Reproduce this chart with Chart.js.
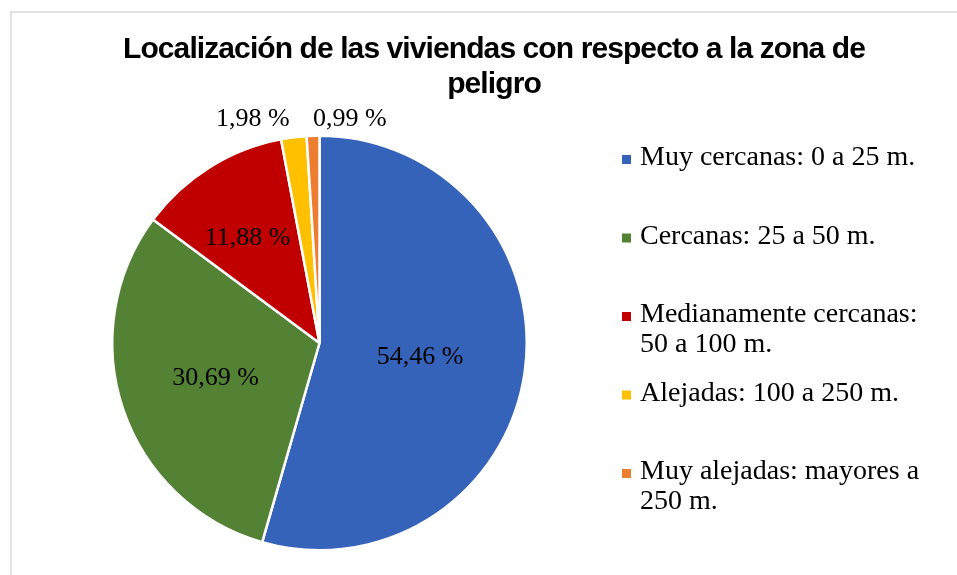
<!DOCTYPE html>
<html>
<head>
<meta charset="utf-8">
<script src="https://cdn.jsdelivr.net/npm/chart.js@4.4.0/dist/chart.umd.min.js"></script>
<style>
  html, body { margin: 0; padding: 0; background: #fff; }
  #wrap { position: relative; width: 957px; height: 575px; }
</style>
</head>
<body>
<div id="wrap"><canvas id="pieChart" width="957" height="575"></canvas></div>
<script>
// datos del gráfico
const titleLines = ['Localización de las viviendas con respecto a la zona de', 'peligro'];
const categories = [
  'Muy cercanas: 0 a 25 m.',
  'Cercanas: 25 a 50 m.',
  'Medianamente cercanas: 50 a 100 m.',
  'Alejadas: 100 a 250 m.',
  'Muy alejadas: mayores a 250 m.'
];
const percentages = [54.46, 30.69, 11.88, 1.98, 0.99];
const sliceColors = ['#3563B9', '#548235', '#C00000', '#FFC000', '#ED7D31'];

const serif = '"Liberation Serif", "Times New Roman", serif';
const sans = '"Liberation Sans", Arial, sans-serif';

function fmtPct(v) {
  return v.toFixed(2).replace('.', ',') + ' %';
}

// marco gris (solo arriba e izquierda visibles)
const framePlugin = {
  id: 'frame',
  beforeDraw(chart) {
    const ctx = chart.ctx;
    ctx.save();
    ctx.fillStyle = '#fff';
    ctx.fillRect(0, 0, chart.width, chart.height);
    ctx.strokeStyle = '#d9d9d9';
    ctx.lineWidth = 1.5;
    ctx.beginPath();
    ctx.moveTo(11, chart.height);
    ctx.lineTo(11, 12);
    ctx.lineTo(chart.width, 12);
    ctx.stroke();
    ctx.restore();
  }
};

// título en dos líneas
const titlePlugin = {
  id: 'bigTitle',
  afterDraw(chart) {
    const ctx = chart.ctx;
    ctx.save();
    ctx.font = 'bold 30px ' + sans;
    ctx.fillStyle = '#000';
    ctx.textBaseline = 'alphabetic';
    ctx.textAlign = 'left';
    const targetW = 742;
    const centerX = 494;
    ctx.letterSpacing = '0px';
    const w0 = ctx.measureText(titleLines[0]).width;
    const ls = (targetW - w0) / titleLines[0].length;
    ctx.letterSpacing = ls + 'px';
    const baselines = [58, 93];
    titleLines.forEach((line, i) => {
      const w = ctx.measureText(line).width;
      ctx.fillText(line, centerX - w / 2, baselines[i]);
    });
    ctx.restore();
  }
};

// etiquetas de porcentaje
const insideRadius = [0.49, 0.53, 0.614];
const sliceLabelPlugin = {
  id: 'sliceLabels',
  afterDatasetsDraw(chart) {
    const ctx = chart.ctx;
    const meta = chart.getDatasetMeta(0);
    ctx.save();
    ctx.font = '26px ' + serif;
    ctx.fillStyle = '#000';
    ctx.textBaseline = 'middle';
    meta.data.forEach((arc, i) => {
      const p = arc.getProps(['x', 'y', 'startAngle', 'endAngle', 'outerRadius'], true);
      const mid = (p.startAngle + p.endAngle) / 2;
      const text = fmtPct(percentages[i]);
      if (i < insideRadius.length) {
        const r = p.outerRadius * insideRadius[i];
        const a = i === 2 ? mid - 0.04 : mid;
        ctx.textAlign = 'center';
        ctx.fillText(text, p.x + r * Math.cos(a), p.y + r * Math.sin(a));
      } else {
        // sectores pequeños: etiqueta fuera, arriba
        const ex = p.x + p.outerRadius * Math.cos(mid);
        const ty = p.y - p.outerRadius - 17;
        if (i === 3) {
          ctx.textAlign = 'right';
          ctx.fillText(text, ex - 4, ty);
        } else {
          ctx.textAlign = 'left';
          ctx.fillText(text, ex, ty);
        }
      }
    });
    ctx.restore();
  }
};

// leyenda a la derecha con texto en varias líneas
const legendPlugin = {
  id: 'sideLegend',
  afterDraw(chart) {
    const ctx = chart.ctx;
    const colors = chart.data.datasets[0].backgroundColor;
    ctx.save();
    ctx.font = '28px ' + serif;
    ctx.textBaseline = 'middle';
    ctx.textAlign = 'left';
    const boxX = 622, textX = 640, maxW = 290;
    const firstY = 158, step = 78.5, lineH = 30;
    chart.data.labels.forEach((label, i) => {
      // partir en líneas
      const words = label.split(' ');
      const lines = [];
      let cur = '';
      words.forEach(wd => {
        const test = cur ? cur + ' ' + wd : wd;
        if (ctx.measureText(test).width > maxW && cur) {
          lines.push(cur);
          cur = wd;
        } else {
          cur = test;
        }
      });
      if (cur) lines.push(cur);
      const y = firstY + i * step;
      ctx.fillStyle = colors[i];
      ctx.fillRect(boxX, y - 3, 9, 9);
      ctx.fillStyle = '#000';
      lines.forEach((ln, j) => ctx.fillText(ln, textX, y + j * lineH));
    });
    ctx.restore();
  }
};

const ctx = document.getElementById('pieChart').getContext('2d');
const pieChart = new Chart(ctx, {
  type: 'pie',
  data: {
    labels: categories,
    datasets: [{
      data: percentages,
      backgroundColor: sliceColors,
      borderColor: '#ffffff',
      borderWidth: 2.5,
    }]
  },
  options: {
    responsive: false,
    animation: false,
    layout: {
      padding: { left: 111, right: 429, top: 134, bottom: 23 }
    },
    plugins: {
      legend: { display: false },
      title: { display: false },
      tooltip: { enabled: false }
    }
  },
  plugins: [framePlugin, sliceLabelPlugin, titlePlugin, legendPlugin]
});
</script>
</body>
</html>
